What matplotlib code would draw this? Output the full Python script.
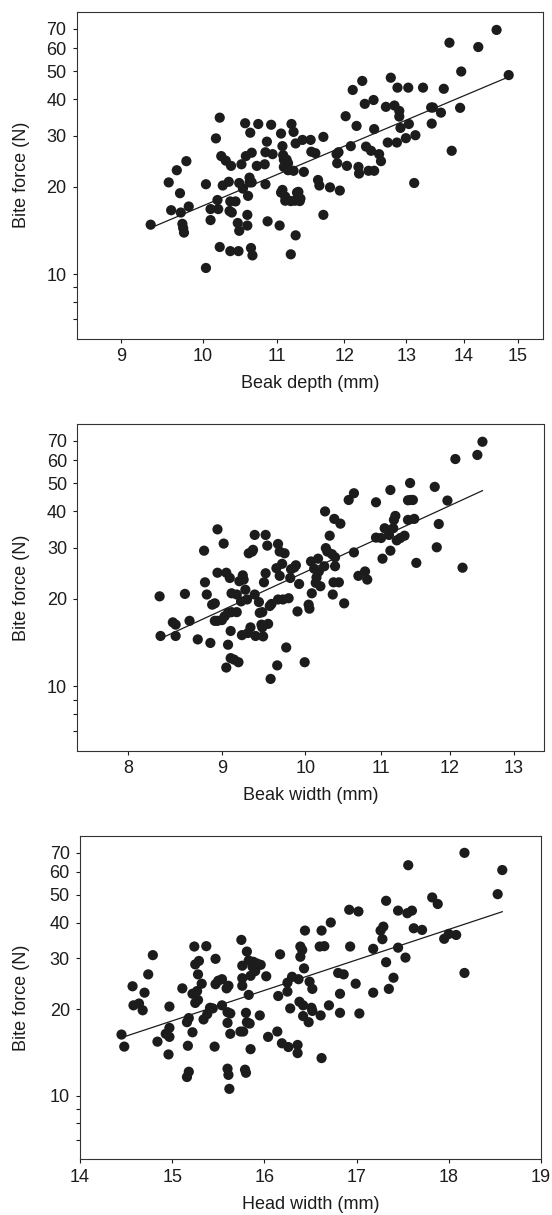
import numpy as np
import matplotlib
matplotlib.use("Agg")
import matplotlib.pyplot as plt
from matplotlib.ticker import NullLocator, FixedLocator, FixedFormatter

plt.rcParams['font.family'] = ['Liberation Sans', 'DejaVu Sans']

# ---------------- data ----------------
beak_depth = [9.35, 9.57, 9.60, 9.67, 9.71, 9.72, 9.74, 9.75, 9.76, 9.79, 9.82,
              10.04, 10.04, 10.10, 10.10, 10.17, 10.19, 10.20, 10.22, 10.22, 10.24,
              10.26, 10.30, 10.34, 10.35, 10.36, 10.37, 10.38, 10.36, 10.43, 10.46,
              10.47, 10.48, 10.48, 10.51, 10.53, 10.56, 10.57, 10.59, 10.59, 10.60,
              10.62, 10.62, 10.63, 10.64, 10.65, 10.66, 10.65, 10.72, 10.74, 10.83,
              10.84, 10.84, 10.86, 10.87, 10.92, 10.94, 11.04, 11.06, 11.06, 11.08,
              11.08, 11.09, 11.10, 11.10, 11.12, 11.14, 11.16, 11.16, 11.12, 11.20,
              11.21, 11.24, 11.20, 11.24, 11.26, 11.27, 11.27, 11.29, 11.31, 11.33,
              11.34, 11.37, 11.39, 11.49, 11.50, 11.56, 11.60, 11.62, 11.68, 11.68,
              11.78, 11.88, 11.89, 11.91, 11.93, 12.02, 12.04, 12.10, 12.13, 12.19,
              12.22, 12.23, 12.28, 12.32, 12.34, 12.38, 12.42, 12.46, 12.47, 12.47,
              12.55, 12.58, 12.66, 12.69, 12.74, 12.80, 12.84, 12.85, 12.88, 12.88,
              12.90, 12.99, 13.03, 13.04, 13.13, 13.15, 13.28, 13.42, 13.43, 13.45,
              13.59, 13.64, 13.74, 13.78, 13.93, 13.95, 14.26, 14.60, 14.83]
bite_depth = [14.8, 20.7, 16.6, 22.8, 19.0, 16.3, 14.9, 14.4, 13.9, 24.5, 17.1,
              20.4, 10.5, 15.35, 16.75, 29.35, 18.0, 16.75, 34.6, 12.4, 25.5,
              20.2, 24.6, 20.8, 16.5, 12.0, 23.6, 16.3, 17.8, 17.8, 15.0,
              12.0, 14.1, 20.6, 23.9, 19.7, 33.1, 25.5, 14.7, 16.0, 18.6,
              20.7, 21.5, 30.7, 12.3, 26.2, 11.6, 20.7, 23.6, 32.9, 23.9,
              20.4, 26.3, 28.6, 15.2, 32.7, 25.9, 14.7, 30.5, 19.1, 27.6,
              19.5, 25.7, 24.8, 23.4, 18.5, 24.8, 24.1, 22.8, 17.9, 11.7,
              32.9, 30.9, 17.85, 22.7, 17.9, 28.2, 13.6, 19.1, 19.2, 17.85,
              18.2, 29.0, 22.5, 29.0, 26.4, 26.1, 21.1, 20.2, 29.7, 16.0,
              19.9, 25.9, 24.1, 26.3, 19.4, 35.0, 23.6, 27.6, 43.1, 32.4,
              23.4, 22.2, 46.3, 38.6, 27.5, 22.7, 26.6, 39.8, 22.7, 31.6,
              25.9, 24.5, 37.7, 28.4, 47.5, 38.1, 28.4, 43.9, 36.5, 34.9,
              31.9, 29.4, 43.9, 32.9, 20.6, 30.1, 43.9, 37.5, 33.0, 37.5,
              36.0, 43.5, 62.7, 26.6, 37.4, 49.9, 60.6, 69.4, 48.5]

beak_width = [8.32, 8.33, 8.46, 8.49, 8.49, 8.59, 8.64, 8.73, 8.80, 8.81, 8.83,
              8.87, 8.89, 8.92, 8.92, 8.95, 8.95, 8.95, 9.00, 9.02, 9.03, 9.05,
              9.05, 9.07, 9.07, 9.09, 9.10, 9.10, 9.11, 9.11, 9.14, 9.17, 9.17,
              9.19, 9.20, 9.22, 9.23, 9.24, 9.25, 9.27, 9.29, 9.30, 9.31, 9.33,
              9.35, 9.36, 9.38, 9.38, 9.39, 9.43, 9.44, 9.46, 9.47, 9.47, 9.48,
              9.49, 9.51, 9.51, 9.53, 9.54, 9.56, 9.57, 9.58, 9.64, 9.65, 9.66,
              9.66, 9.68, 9.68, 9.71, 9.72, 9.74, 9.76, 9.79, 9.81, 9.82, 9.86,
              9.88, 9.90, 9.92, 9.99, 10.04, 10.05, 10.07, 10.08, 10.11, 10.13,
              10.14, 10.16, 10.17, 10.19, 10.24, 10.25, 10.26, 10.28, 10.31, 10.34,
              10.35, 10.36, 10.37, 10.38, 10.38, 10.43, 10.45, 10.50, 10.56, 10.63,
              10.63, 10.69, 10.78, 10.81, 10.93, 10.93, 11.00, 11.02, 11.05, 11.11,
              11.13, 11.13, 11.17, 11.18, 11.20, 11.22, 11.27, 11.33, 11.38, 11.38,
              11.41, 11.42, 11.45, 11.47, 11.50, 11.77, 11.80, 11.83, 11.96, 12.08,
              12.19, 12.42, 12.50]
bite_width = [20.4, 14.9, 16.6, 16.3, 14.9, 20.8, 16.8, 14.5, 29.3, 22.8, 20.7,
              14.1, 19.1, 19.3, 16.8, 34.7, 24.6, 16.8, 16.9, 31.0, 17.4, 24.6,
              11.6, 13.9, 17.9, 23.6, 15.5, 12.5, 20.9, 18.0, 12.35, 20.7, 18.0,
              12.1, 23.0, 19.6, 15.0, 24.1, 23.3, 21.5, 19.9, 15.25, 28.7, 15.95,
              29.1, 29.5, 20.7, 33.2, 14.9, 19.5, 17.9, 16.3, 15.95, 18.0, 14.85,
              22.8, 24.5, 33.2, 30.5, 16.4, 18.9, 10.6, 19.2, 25.5, 11.8, 30.9,
              19.9, 24.0, 29.1, 26.4, 19.9, 28.7, 13.6, 20.1, 23.6, 25.3, 25.65,
              26.1, 18.1, 22.5, 12.1, 19.1, 18.5, 26.9, 20.9, 25.4, 22.7,
              23.7, 27.5, 24.85, 22.1, 25.9, 40.0, 29.9, 29.1, 33.0, 28.5,
              20.7, 22.8, 37.7, 27.8, 25.9, 22.8, 36.3, 19.3, 43.8, 46.2,
              28.9, 24.0, 24.85, 23.3, 43.0, 32.5, 32.4, 27.5, 35.0, 33.2,
              47.4, 29.3, 35.0, 37.4, 38.6, 31.8, 32.4, 33.0, 37.4, 43.7,
              50.1, 43.8, 43.8, 37.7, 26.6, 48.6, 30.1, 36.2, 43.6, 60.6,
              25.6, 62.6, 69.5]

head_width = [14.45, 14.48, 14.57, 14.58, 14.64, 14.68, 14.70, 14.74, 14.79, 14.84,
              14.93, 14.96, 14.97, 14.97, 14.97, 15.11, 15.16, 15.18, 15.16, 15.17,
              15.18, 15.22, 15.22, 15.24, 15.25, 15.25, 15.27, 15.28, 15.28, 15.29,
              15.32, 15.34, 15.37, 15.38, 15.41, 15.44, 15.46, 15.47, 15.47, 15.50,
              15.54, 15.54, 15.59, 15.60, 15.61, 15.61, 15.60, 15.60, 15.63, 15.62,
              15.63, 15.75, 15.76, 15.76, 15.76, 15.74, 15.77, 15.79, 15.80, 15.80,
              15.81, 15.81, 15.84, 15.83, 15.85, 15.83, 15.85, 15.87, 15.88, 15.90,
              15.92, 15.96, 15.95, 16.02, 16.04, 16.14, 16.15, 16.17, 16.19, 16.25,
              16.25, 16.26, 16.28, 16.30, 16.36, 16.36, 16.37, 16.38, 16.39, 16.39,
              16.41, 16.42, 16.42, 16.43, 16.44, 16.48, 16.49, 16.51, 16.52, 16.52,
              16.60, 16.61, 16.62, 16.62, 16.65, 16.70, 16.72, 16.80, 16.82, 16.82,
              16.86, 16.92, 16.93, 16.99, 17.02, 17.03, 17.18, 17.18, 17.26, 17.29,
              17.28, 17.32, 17.32, 17.35, 17.40, 17.45, 17.45, 17.53, 17.56, 17.55,
              17.60, 17.62, 17.71, 17.82, 17.88, 17.95, 18.00, 18.08, 18.17, 18.17,
              18.53, 18.58]
bite_head = [16.3, 14.8, 24.0, 20.6, 20.9, 19.8, 22.8, 26.4, 30.8, 15.4,
             16.4, 13.9, 20.4, 17.2, 16.0, 23.6, 11.6, 12.1, 18.0, 14.9,
             18.6, 22.6, 16.6, 33.0, 28.6, 21.0, 23.1, 21.5, 26.4, 29.4,
             24.5, 18.4, 33.1, 19.2, 20.2, 20.1, 14.8, 29.9, 24.4, 25.1,
             25.4, 20.6, 23.6, 12.4, 11.8, 24.1, 17.9, 19.5, 19.3, 10.55,
             16.4, 34.8, 28.3, 25.6, 24.1, 16.7, 16.7, 12.3, 12.0, 19.4,
             31.7, 18.0, 17.8, 22.4, 14.5, 29.5, 26.1, 28.1, 29.2, 27.1,
             28.8, 28.5, 19.0, 26.0, 16.0, 16.7, 22.2, 31.0, 15.2, 23.0,
             24.7, 14.75, 20.1, 25.9, 15.0, 14.05, 25.4, 21.2, 33.0, 30.4,
             32.1, 20.6, 18.9, 27.7, 37.5, 18.0, 24.9, 20.2, 23.5, 19.7,
             33.0, 19.0, 13.5, 37.5, 33.1, 20.6, 40.0, 26.7, 22.6, 19.4,
             26.4, 44.3, 33.0, 24.5, 43.7, 19.3, 22.8, 32.4, 37.5, 38.7,
             35.0, 47.6, 29.1, 23.5, 25.7, 44.0, 32.7, 30.2, 63.3, 43.1,
             44.0, 38.2, 37.7, 48.9, 46.4, 35.1, 36.5, 36.2, 69.9, 26.7,
             50.2, 60.9]

x_labels = ["Beak depth (mm)", "Beak width (mm)", "Head width (mm)"]
y_label = "Bite force (N)"
x_ticks = [[9, 10, 11, 12, 13, 14, 15], [8, 9, 10, 11, 12, 13], [14, 15, 16, 17, 18, 19]]
x_limits = [(8.5, 15.5), (7.5, 13.5), (14, 19)]
x_log = [True, True, False]
y_ticks = [7, 8, 9, 10, 20, 30, 40, 50, 60, 70]
y_tick_labels = ["", "", "", "10", "20", "30", "40", "50", "60", "70"]
y_limits = (6, 80)

# ---------------- layout ----------------
W, H = 552, 1215
fig = plt.figure(figsize=(W / 100, H / 100), dpi=100)

boxes = [  # left, top, right, bottom in pixels
    (76.7, 12.0, 543.0, 338.5),
    (77.3, 424.0, 543.5, 750.7),
    (80.0, 836.0, 541.0, 1159.3),
]
ylabel_right_px = 30.5

datasets = [(beak_depth, bite_depth), (beak_width, bite_width), (head_width, bite_head)]
ink = '#1c1c1c'

for i, (l, t, r, b) in enumerate(boxes):
    ax = fig.add_axes([l / W, 1 - b / H, (r - l) / W, (b - t) / H])
    xs = np.array(datasets[i][0], dtype=float)
    ys = np.array(datasets[i][1], dtype=float)

    if x_log[i]:
        ax.set_xscale('log')
    ax.set_yscale('log')

    ax.scatter(xs, ys, s=54, color=ink, edgecolors='none', zorder=3)

    # least-squares fit on log scale
    if x_log[i]:
        k, c = np.polyfit(np.log(xs), np.log(ys), 1)
        xx = np.linspace(xs.min(), xs.max(), 100)
        yy = np.exp(c) * xx ** k
    else:
        k, c = np.polyfit(xs, np.log(ys), 1)
        xx = np.linspace(xs.min(), xs.max(), 100)
        yy = np.exp(c + k * xx)
    ax.plot(xx, yy, color=ink, lw=0.9, zorder=2)

    ax.set_xlim(*x_limits[i])
    ax.set_ylim(*y_limits)

    ax.xaxis.set_major_locator(FixedLocator(x_ticks[i]))
    ax.xaxis.set_major_formatter(FixedFormatter([str(v) for v in x_ticks[i]]))
    ax.xaxis.set_minor_locator(NullLocator())
    ax.yaxis.set_major_locator(FixedLocator(y_ticks))
    ax.yaxis.set_major_formatter(FixedFormatter(y_tick_labels))
    ax.yaxis.set_minor_locator(NullLocator())

    ax.tick_params(axis='both', direction='out', length=3.0, width=0.8,
                   colors=ink, labelsize=13, pad=4.3)
    ax.tick_params(axis='x', pad=4)
    for sp in ax.spines.values():
        sp.set_linewidth(0.8)
        sp.set_color('#333333')

    ax.set_xlabel(x_labels[i], fontsize=13, color=ink, labelpad=7)
    ax.set_ylabel(y_label, fontsize=13, color=ink)
    ax.yaxis.set_label_coords((ylabel_right_px - l) / (r - l), 0.5)

fig.savefig('out.png', dpi=100)
